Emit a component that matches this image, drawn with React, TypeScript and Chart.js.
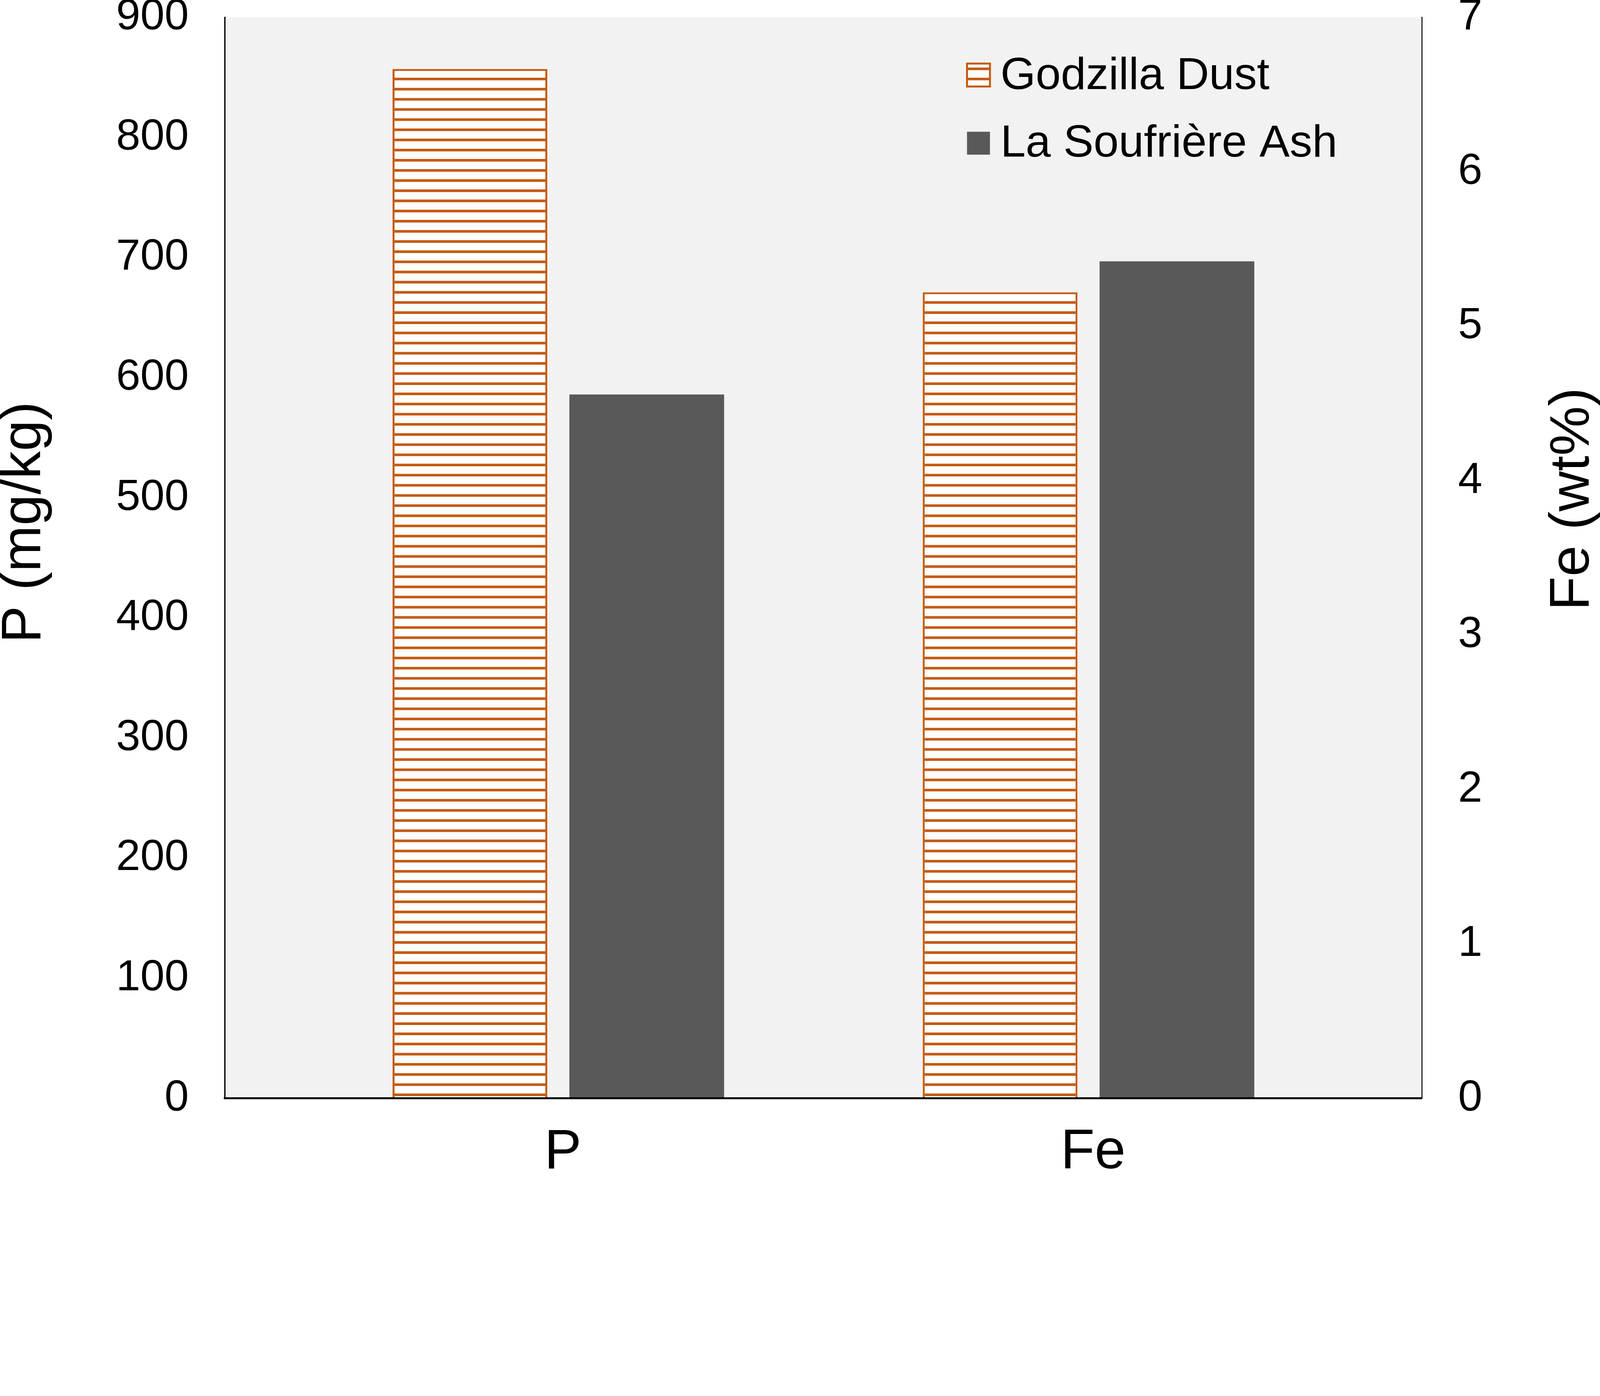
import { useEffect, useRef } from "react";
import { Chart, registerables } from "chart.js";
import type { Plugin } from "chart.js";

Chart.register(...registerables);

// categories on the x axis
const elements = ["P", "Fe"];
const seriesNames = ["Godzilla Dust", "La Soufrière Ash"];
// first value: P in mg/kg (left axis), second value: Fe in wt% (right axis)
const godzillaDust = [857, 5.22];
const soufriereAsh = [586, 5.42];
const pAxisMax = 900;
const pAxisStep = 100;
const feAxisMax = 7;
const feAxisStep = 1;
const axisTitles = ["P (mg/kg)", "Fe (wt%)"];

const ORANGE = "#C55A11";
const GREY = "#595959";
const PLOT_BG = "#F2F2F2";
const FONT = "'Liberation Sans', Arial, sans-serif";
// the chart is laid out in pixels of the 4881x3575 picture
const W = 4881;
const H = 3575;

// white bar with horizontal orange stripes
function makeHatch(): CanvasPattern | string {
  const c = document.createElement("canvas");
  c.width = 8;
  c.height = 31;
  const g = c.getContext("2d");
  if (!g) return "#ffffff";
  g.fillStyle = "#ffffff";
  g.fillRect(0, 0, 8, 31);
  g.fillStyle = ORANGE;
  g.fillRect(0, 20, 8, 8);
  return g.createPattern(c, "repeat") ?? "#ffffff";
}

const plotBackground: Plugin<"bar"> = {
  id: "plotBackground",
  beforeDraw(chart) {
    const { ctx, chartArea } = chart;
    ctx.save();
    ctx.fillStyle = PLOT_BG;
    ctx.fillRect(chartArea.left, chartArea.top, chartArea.right - chartArea.left, chartArea.bottom - chartArea.top);
    ctx.restore();
  },
};

const titlesAndLegend: Plugin<"bar"> = {
  id: "titlesAndLegend",
  afterDraw(chart) {
    const { ctx, chartArea } = chart;
    const { right, top } = chartArea;

    // axis titles, both read bottom to top
    ctx.save();
    ctx.fillStyle = "#000";
    ctx.font = `170px ${FONT}`;
    ctx.textAlign = "center";
    ctx.textBaseline = "alphabetic";
    const titlePos = [
      [123, 1594],
      [4846, 1523],
    ];
    axisTitles.forEach((t, i) => {
      ctx.save();
      ctx.translate(titlePos[i][0], titlePos[i][1]);
      ctx.rotate(-Math.PI / 2);
      ctx.fillText(t, 0, 0);
      ctx.restore();
    });
    ctx.restore();

    // legend inside the plot, top right
    seriesNames.forEach((name, s) => {
      const ds = chart.data.datasets[s] as any;
      const bx = right - 1388;
      const by = top + 141 + s * 208;
      ctx.save();
      ctx.fillStyle = ds.backgroundColor;
      ctx.fillRect(bx, by, 70, 70);
      if (ds.borderWidth) {
        ctx.strokeStyle = ds.borderColor;
        ctx.lineWidth = 6;
        ctx.strokeRect(bx, by, 70, 70);
      }
      ctx.fillStyle = "#000";
      ctx.font = `138px ${FONT}`;
      ctx.textAlign = "left";
      ctx.textBaseline = "alphabetic";
      ctx.fillText(name, right - 1286, top + 219 + s * 206);
      ctx.restore();
    });
  },
};

export default function App() {
  const canvasRef = useRef<HTMLCanvasElement | null>(null);

  // fit the 4881x3575 layout into the real viewport
  const k = Math.min(window.innerWidth / W, window.innerHeight / H);

  useEffect(() => {
    document.documentElement.style.overflow = "hidden";
    document.body.style.margin = "0";
    document.body.style.overflow = "hidden";
    if (!canvasRef.current) return;

    const hatch = makeHatch();
    const datasets: any[] = [];
    elements.forEach((_, i) => {
      seriesNames.forEach((name, s) => {
        const values = s === 0 ? godzillaDust : soufriereAsh;
        datasets.push({
          label: name,
          // one bar per dataset; the other category is left empty
          data: elements.map((__, j) => ({ x: j + 1, y: j === i ? values[i] : null })),
          yAxisID: i === 0 ? "y" : "y1",
          backgroundColor: s === 0 ? hatch : GREY,
          borderColor: s === 0 ? ORANGE : GREY,
          borderWidth: s === 0 ? 6 : 0,
          skipNull: true,
          categoryPercentage: 0.667,
          barPercentage: 0.875,
        });
      });
    });

    const chart = new Chart(canvasRef.current, {
      type: "bar",
      data: { datasets },
      options: {
        animation: false,
        responsive: true,
        maintainAspectRatio: false,
        devicePixelRatio: k * (window.devicePixelRatio || 1),
        layout: { padding: { top: 53, left: 0, right: 0, bottom: 0 } },
        plugins: {
          legend: { display: false },
          tooltip: { enabled: false },
        },
        scales: {
          x: {
            type: "linear",
            min: 0.371,
            max: 2.629,
            bounds: "data",
            offset: false,
            stacked: false,
            grid: { display: false, drawTicks: false },
            border: { display: true, color: "#000", width: 6, z: 1 },
            afterBuildTicks: (scale: any) => {
              scale.ticks = elements.map((_, i) => ({ value: i + 1 }));
            },
            afterFit: (scale: any) => {
              scale.height = 223;
              scale.paddingLeft = 0;
              scale.paddingRight = 0;
            },
            ticks: {
              callback: (v: any) => elements[Number(v) - 1] ?? "",
              font: { family: FONT, size: 170 },
              color: "#000",
              padding: 64,
              labelOffset: 14,
              maxRotation: 0,
              autoSkip: false,
            },
          },
          y: {
            type: "linear",
            position: "left",
            min: 0,
            max: pAxisMax,
            grid: { display: false, drawTicks: false },
            border: { display: true, color: "#000", width: 4 },
            afterFit: (scale: any) => {
              scale.width = 686;
              scale.paddingTop = 0;
              scale.paddingBottom = 0;
            },
            ticks: {
              stepSize: pAxisStep,
              font: { family: FONT, size: 133 },
              color: "#000",
              padding: 110,
            },
          },
          y1: {
            type: "linear",
            position: "right",
            min: 0,
            max: feAxisMax,
            grid: { display: false, drawTicks: false },
            border: { display: true, color: "#000", width: 3 },
            afterFit: (scale: any) => {
              scale.width = W - 4338;
              scale.paddingTop = 0;
              scale.paddingBottom = 0;
            },
            ticks: {
              stepSize: feAxisStep,
              font: { family: FONT, size: 133 },
              color: "#000",
              padding: 110,
            },
          },
        },
      },
      plugins: [plotBackground, titlesAndLegend],
    } as any);

    return () => {
      chart.destroy();
    };
  }, [k]);

  return (
    <div style={{ width: W * k, height: H * k, overflow: "hidden" }}>
      <div
        style={{
          position: "relative",
          width: W,
          height: H,
          transform: `scale(${k})`,
          transformOrigin: "0 0",
        }}
      >
        <canvas ref={canvasRef}></canvas>
      </div>
    </div>
  );
}
